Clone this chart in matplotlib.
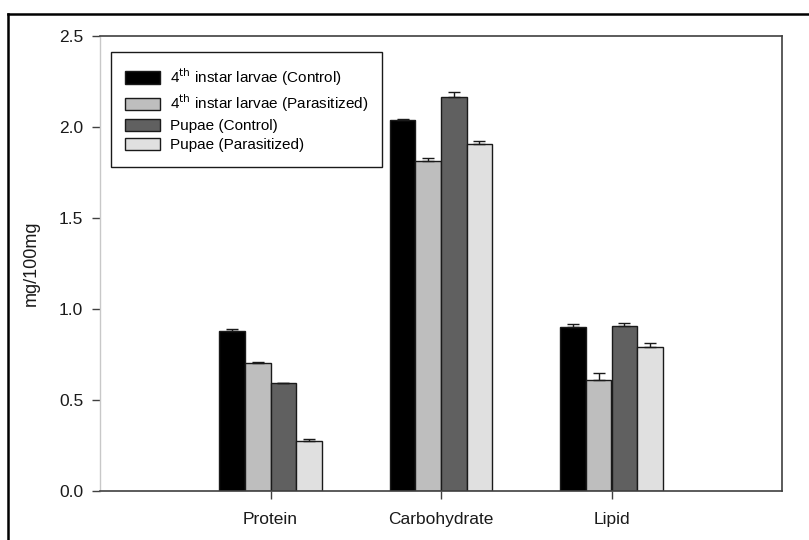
import matplotlib.pyplot as plt
import numpy as np
from matplotlib.lines import Line2D

plt.rcParams['font.family'] = ['Liberation Sans', 'DejaVu Sans']

categories = ['Protein', 'Carbohydrate', 'Lipid']
series = ['4$^{\\mathrm{th}}$ instar larvae (Control)',
          '4$^{\\mathrm{th}}$ instar larvae (Parasitized)',
          'Pupae (Control)',
          'Pupae (Parasitized)']
larvae_control = [0.879, 2.037, 0.900]
larvae_parasit = [0.703, 1.811, 0.607]
pupae_control = [0.590, 2.161, 0.905]
pupae_parasit = [0.275, 1.907, 0.792]
err_larvae_control = [0.010, 0.006, 0.016]
err_larvae_parasit = [0.005, 0.018, 0.038]
err_pupae_control = [0.0, 0.029, 0.016]
err_pupae_parasit = [0.011, 0.015, 0.022]

values = [larvae_control, larvae_parasit, pupae_control, pupae_parasit]
errors = [err_larvae_control, err_larvae_parasit, err_pupae_control, err_pupae_parasit]
colors = ['#000000', '#bebebe', '#606060', '#e0e0e0']

fig = plt.figure(figsize=(8.09, 5.40), dpi=100)
ax = fig.add_axes([100 / 809, 1 - 490.7 / 540, 682 / 809, 455 / 540])

x = np.arange(1, len(categories) + 1)
width = 0.15
for i, (vals, errs) in enumerate(zip(values, errors)):
    pos = x + (i - 1.5) * width
    ax.bar(pos, vals, width, color=colors[i], edgecolor='#1a1a1a', linewidth=1.0,
           label=series[i], zorder=2)
    ax.errorbar(pos, vals, yerr=[np.zeros(len(errs)), errs], fmt='none',
                ecolor='#1a1a1a', elinewidth=1.0, capsize=4.5, capthick=1.0, zorder=3)

ax.set_xlim(0, 4)
ax.set_ylim(0, 2.5)
ax.set_xticks(x)
ax.set_xticklabels(categories, fontsize=12.5, color='#1a1a1a')
ax.set_yticks([0.0, 0.5, 1.0, 1.5, 2.0, 2.5])
ax.set_yticklabels(['0.0', '0.5', '1.0', '1.5', '2.0', '2.5'], fontsize=12.5, color='#1a1a1a')
ax.set_ylabel('mg/100mg', fontsize=13, labelpad=14, color='#1a1a1a')
ax.tick_params(axis='both', direction='out', length=6, width=1.0, color='#404040')
ax.tick_params(axis='x', pad=9)
ax.tick_params(axis='y', pad=6)

for side in ['top', 'right', 'bottom']:
    ax.spines[side].set_color('#404040')
    ax.spines[side].set_linewidth(1.2)
ax.spines['left'].set_color('#c8c8c8')
ax.spines['left'].set_linewidth(1.0)

leg = ax.legend(loc='upper left', bbox_to_anchor=(0.0157, 0.965), fontsize=11,
                fancybox=False, edgecolor='#1a1a1a', framealpha=1,
                handlelength=2.3, handleheight=0.85, labelspacing=0.3,
                borderpad=0.95, handletextpad=0.6, borderaxespad=0)
leg.get_frame().set_linewidth(1.0)

# outer frame of the picture, top and left sides only
fig.add_artist(Line2D([8 / 809, 1.0], [1 - 14 / 540, 1 - 14 / 540],
                      transform=fig.transFigure, color='black', linewidth=1.8))
fig.add_artist(Line2D([8 / 809, 8 / 809], [0.0, 1 - 14 / 540],
                      transform=fig.transFigure, color='black', linewidth=1.8))

fig.savefig('out.png', dpi=100)
